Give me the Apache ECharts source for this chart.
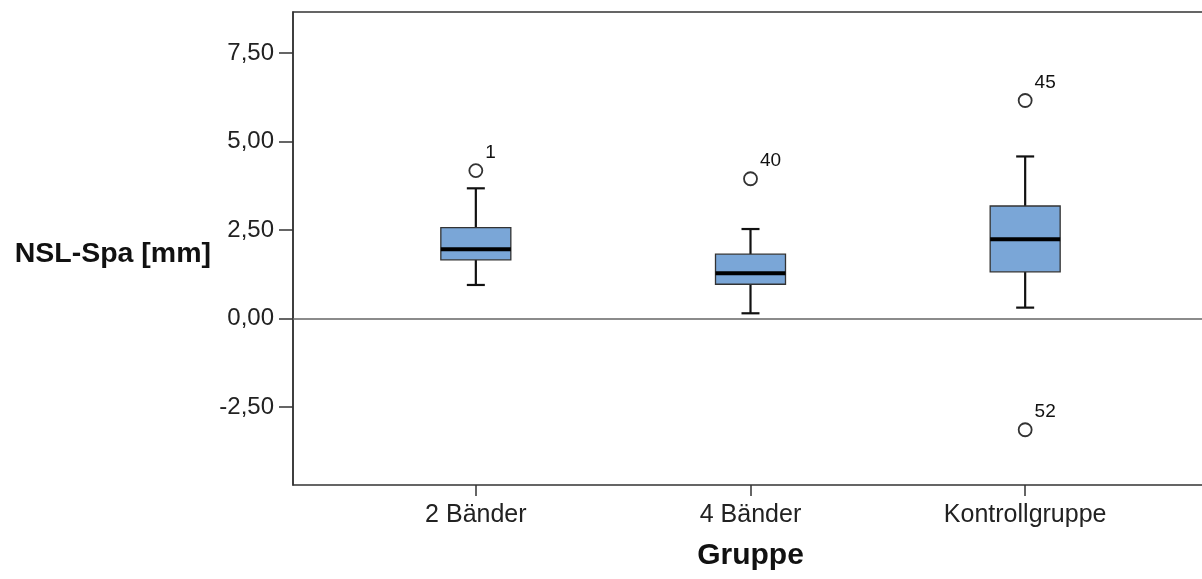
<!DOCTYPE html>
<html>
<head>
<meta charset="utf-8">
<script src="https://cdn.jsdelivr.net/npm/echarts@6.0.0/dist/echarts.min.js"></script>
<style>
html,body{margin:0;padding:0;background:#fff;}
#chart{width:1202px;height:579px;}
</style>
</head>
<body>
<div id="chart"></div>
<script>
// ---- data ----
const categories = ['2 Bänder', '4 Bänder', 'Kontrollgruppe'];
// [whisker low, Q1, median, Q3, whisker high]
const box2Baender = [0.95, 1.66, 1.96, 2.57, 3.68];
const box4Baender = [0.15, 0.97, 1.28, 1.82, 2.53];
const boxKontroll = [0.31, 1.32, 2.24, 3.18, 4.58];
// [category index, value, case label]
const outliers = [[0, 4.18, '1'], [1, 3.95, '40'], [2, 6.16, '45'], [2, -3.14, '52']];
const yTicks = [-2.5, 0, 2.5, 5, 7.5];
const yMin = -4.70, yMax = 8.66;
const xTitle = 'Gruppe';
const yTitle = 'NSL-Spa [mm]';

const boxes = [box2Baender, box4Baender, boxKontroll];
const boxSeriesData = boxes.map((b, i) => [i].concat(b));

const FONT = 'Liberation Sans, Arial, sans-serif';
const chart = echarts.init(document.getElementById('chart'), null, {renderer: 'canvas'});

const fmt = v => v.toFixed(2).replace('.', ',');

const option = {
  backgroundColor: '#ffffff',
  animation: false,
  graphic: [
    {
      type: 'text', right: 1202 - 211, top: 240, z: 10,
      style: {text: yTitle, fontSize: 28.5, fontWeight: 'bold', fontFamily: FONT, fill: '#111'}
    }
  ],
  grid: [
    {left: 293, width: 960, top: 12, bottom: 94, outerBoundsMode: 'none', containLabel: false,
      show: true, borderColor: '#333', borderWidth: 1.5, backgroundColor: 'transparent'},
    {left: 338.5, right: 39.5, top: 12, bottom: 94, outerBoundsMode: 'none', containLabel: false}
  ],
  xAxis: [
    {
      gridIndex: 0, type: 'value', min: 0, max: 1,
      axisLine: {show: true, onZero: true, lineStyle: {color: '#666', width: 1.5}},
      axisTick: {show: false}, axisLabel: {show: false}, splitLine: {show: false}
    },
    {
      gridIndex: 1, type: 'category', data: categories, boundaryGap: true,
      axisLine: {show: false, onZero: false},
      axisTick: {show: true, alignWithLabel: true, length: 11, lineStyle: {color: '#333', width: 1.5}},
      axisLabel: {fontSize: 25, fontFamily: FONT, color: '#222', margin: 18},
      splitLine: {show: false},
      name: xTitle, nameLocation: 'middle', nameGap: 56,
      nameTextStyle: {fontSize: 30, fontWeight: 'bold', fontFamily: FONT, color: '#111'}
    }
  ],
  yAxis: [
    {
      gridIndex: 0, type: 'value', min: yMin, max: yMax,
      axisLine: {show: true, lineStyle: {color: '#333', width: 1.5}},
      axisTick: {show: true, customValues: yTicks, length: 14, lineStyle: {color: '#333', width: 1.5}},
      axisLabel: {customValues: yTicks, formatter: fmt, fontSize: 24, fontFamily: FONT, color: '#222', margin: 19},
      splitLine: {show: false}
    },
    {
      gridIndex: 1, type: 'value', min: yMin, max: yMax, show: false,
      splitLine: {show: false}
    }
  ],
  series: [
    {
      type: 'custom',
      xAxisIndex: 1, yAxisIndex: 1,
      data: boxSeriesData,
      encode: {x: 0, y: [1, 2, 3, 4, 5]},
      renderItem: function (params, api) {
        const idx = api.value(0);
        const lo = api.coord([idx, api.value(1)]);
        const q1 = api.coord([idx, api.value(2)]);
        const med = api.coord([idx, api.value(3)]);
        const q3 = api.coord([idx, api.value(4)]);
        const hi = api.coord([idx, api.value(5)]);
        const cx = lo[0];
        const half = 35, cap = 9;
        const lineStyle = {stroke: '#111', lineWidth: 2.2};
        return {
          type: 'group',
          children: [
            {type: 'line', shape: {x1: cx, y1: q3[1], x2: cx, y2: hi[1]}, style: lineStyle},
            {type: 'line', shape: {x1: cx, y1: q1[1], x2: cx, y2: lo[1]}, style: lineStyle},
            {type: 'line', shape: {x1: cx - cap, y1: hi[1], x2: cx + cap, y2: hi[1]}, style: lineStyle},
            {type: 'line', shape: {x1: cx - cap, y1: lo[1], x2: cx + cap, y2: lo[1]}, style: lineStyle},
            {type: 'rect', shape: {x: cx - half, y: q3[1], width: half * 2, height: q1[1] - q3[1]},
              style: {fill: '#7aa6d7', stroke: '#333', lineWidth: 1.3}},
            {type: 'line', shape: {x1: cx - half, y1: med[1], x2: cx + half, y2: med[1]},
              style: {stroke: '#000', lineWidth: 4}}
          ]
        };
      },
      z: 3
    },
    {
      type: 'scatter',
      xAxisIndex: 1, yAxisIndex: 1,
      data: outliers,
      symbol: 'circle',
      symbolSize: 13,
      itemStyle: {color: '#ffffff', borderColor: '#333', borderWidth: 1.8, opacity: 1},
      label: {
        show: true, position: 'right', distance: 2, offset: [0, -18],
        formatter: p => p.data[2],
        fontSize: 19, fontFamily: FONT, color: '#111'
      },
      z: 4
    }
  ]
};
chart.setOption(option);
</script>
</body>
</html>
